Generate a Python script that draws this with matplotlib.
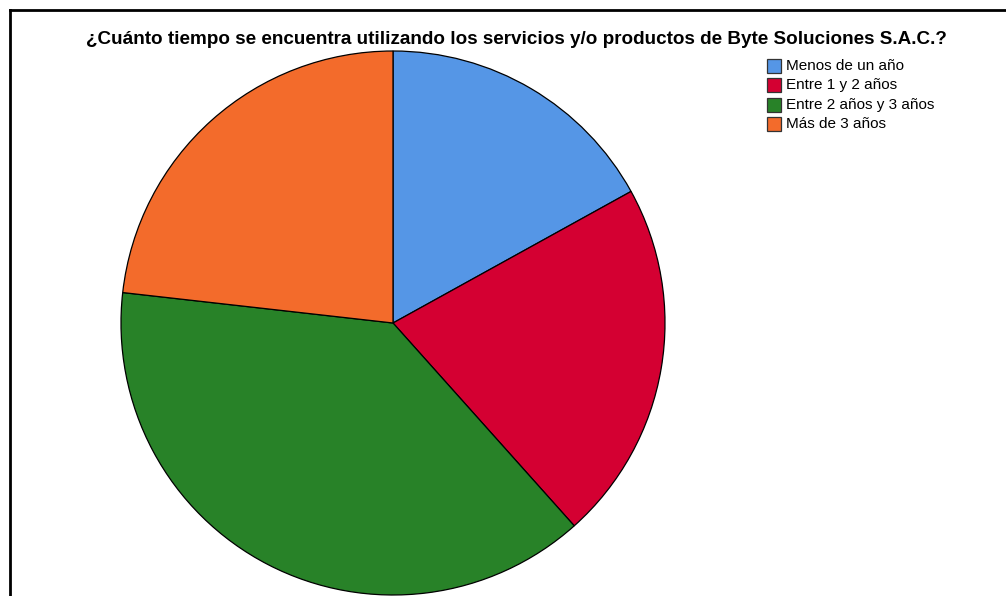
import matplotlib.pyplot as plt
from matplotlib.patches import Rectangle
from matplotlib.lines import Line2D

plt.rcParams['font.family'] = ['Liberation Sans', 'DejaVu Sans']

# respuestas por categoria
categorias = ["Menos de un año", "Entre 1 y 2 años", "Entre 2 años y 3 años", "Más de 3 años"]
conteos = [19, 24, 43, 26]
colores = ["#5596E6", "#D40032", "#288228", "#F36B2B"]
titulo = "¿Cuánto tiempo se encuentra utilizando los servicios y/o productos de Byte Soluciones S.A.C.?"

W, H = 1006, 596
fig = plt.figure(figsize=(W / 100, H / 100), dpi=100)
ax = fig.add_axes([0, 0, 1, 1])

# pie in pixel units, y measured from the bottom
ax.pie(conteos, colors=colores, startangle=90, counterclock=False,
       center=(393, H - 323), radius=272, frame=True,
       wedgeprops=dict(edgecolor="black", linewidth=0.9))
ax.set_xlim(0, W)
ax.set_ylim(0, H)
ax.axis("off")

ax.text(516, H - 39, titulo, ha="center", va="center", fontsize=13.6,
        fontweight="bold", color="black")

# legend
y0 = H - 66
for i, (lab, col) in enumerate(zip(categorias, colores)):
    y = y0 - i * 19.3
    ax.add_patch(Rectangle((767, y - 7), 14, 14, facecolor=col,
                           edgecolor="#333333", linewidth=0.9))
    ax.text(786, y, lab, ha="left", va="center", fontsize=11, color="black")

# frame lines (top and left)
fig.add_artist(Line2D([10 / W, 1], [1 - 10 / H, 1 - 10 / H], color="black", linewidth=2))
fig.add_artist(Line2D([10 / W, 10 / W], [0, 1 - 10 / H], color="black", linewidth=2))

fig.savefig("out.png", dpi=100)
